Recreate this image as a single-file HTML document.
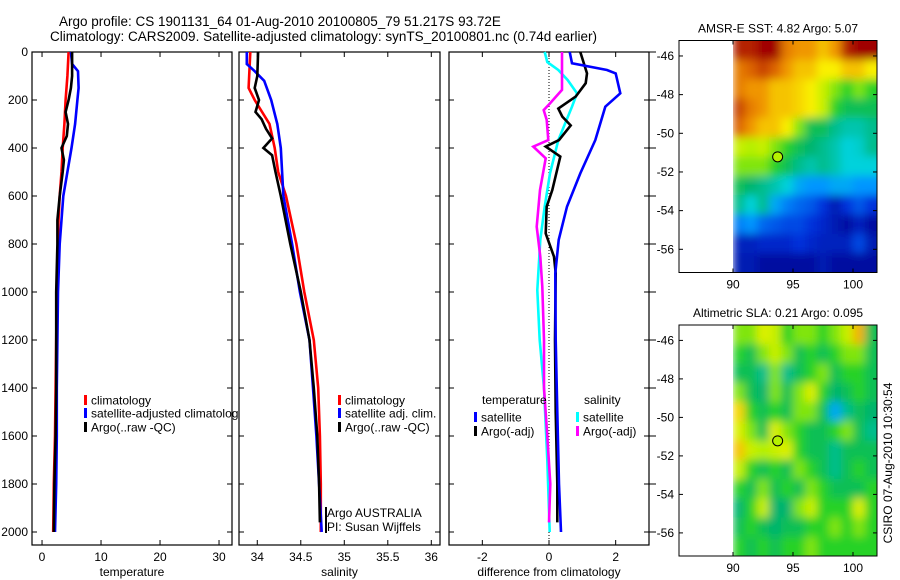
<!DOCTYPE html>
<html><head><meta charset="utf-8"><style>
html,body{margin:0;padding:0;background:#fff;}
svg{display:block;font-family:"Liberation Sans",sans-serif;}
</style></head><body>
<svg id="chart" width="900" height="580" viewBox="0 0 900 580" xmlns="http://www.w3.org/2000/svg">
<defs>
<clipPath id="clip1"><rect x="32" y="52" width="206" height="493"/></clipPath>
<clipPath id="clipM1"><rect x="679" y="40.5" width="198" height="232"/></clipPath>
<clipPath id="clipM2"><rect x="679" y="325" width="198" height="231"/></clipPath>
<filter id="blur" x="-10%" y="-10%" width="120%" height="120%"><feGaussianBlur stdDeviation="4.5"/></filter>
</defs>
<text x="59" y="26" font-size="13.5">Argo profile: CS 1901131_64 01-Aug-2010 20100805_79 51.217S 93.72E</text>
<text x="50" y="41" font-size="13.5">Climatology: CARS2009. Satellite-adjusted climatology: synTS_20100801.nc (0.74d earlier)</text>
<g id="g"></g>
</svg>
<script>
// ---------- data ----------
const depthTicks=[0,200,400,600,800,1000,1200,1400,1600,1800,2000];
// temperature panel
const tClimDepth=[0,100,200,300,400,500,600,700,800,1000,1200,1400,1600,1800,2000];
const tClimVal=[4.5,4.3,4.0,3.8,3.5,3.3,3.0,2.8,2.7,2.5,2.4,2.3,2.2,2.0,1.9];
const tArgoDepth=[0,100,150,200,250,300,350,400,450,500,600,700,800,1000,1200,1400,1600,1800,2000];
const tArgoVal=[5.1,5.1,4.9,4.5,4.0,4.4,4.2,3.3,3.7,3.5,3.0,2.6,2.6,2.4,2.4,2.4,2.3,2.1,2.0];
const tSatDepth=[0,50,80,150,200,300,400,500,600,700,800,1000,1200,1400,1600,1800,2000];
const tSatVal=[4.9,5.1,6.1,6.2,6.0,5.6,5.0,4.3,3.6,3.3,3.0,2.7,2.6,2.5,2.5,2.4,2.2];
const tTicks=[0,10,20,30];
// salinity panel
const sClimDepth=[0,150,200,300,400,500,600,800,1000,1200,1400,1600,1800,2000];
const sClimVal=[33.92,33.9,33.97,34.14,34.2,34.24,34.33,34.45,34.54,34.65,34.7,34.72,34.73,34.73];
const sArgoDepth=[0,100,150,200,250,280,320,360,400,430,500,600,800,1000,1200,1400,1600,1800,1960];
const sArgoVal=[34.01,34.0,33.97,34.02,33.98,34.05,34.1,34.17,34.07,34.17,34.21,34.27,34.38,34.5,34.6,34.65,34.69,34.71,34.72];
const sSatDepth=[0,50,80,120,200,300,400,600,800,1000,1200,1400,1600,1800,2000];
const sSatVal=[33.88,33.88,33.97,34.08,34.16,34.23,34.27,34.3,34.4,34.49,34.6,34.64,34.68,34.71,34.74];
const sTicks=[34,34.5,35,35.5,36];
const sTickLabels=["34","34.5","35","35.5","36"];
// difference panel
const dTSatDepth=[0,47,75,89,172,228,367,506,644,783,922,1200,1500,1800,2000];
const dTSatVal=[0.62,0.69,1.74,2.0,2.14,1.69,1.39,0.94,0.54,0.29,0.19,0.2,0.25,0.3,0.36];
const dTArgoDepth=[0,89,130,186,236,269,306,367,394,436,575,644,756,853,922,1200,1500,1800,1960];
const dTArgoVal=[0.94,1.14,1.1,0.8,0.28,0.4,0.65,0.3,-0.1,0.34,0.1,-0.07,-0.1,0.15,0.2,0.18,0.2,0.25,0.25];
const dSSatDepth=[0,42,75,117,172,228,367,506,644,783,992,1200,1400,1700,2000];
const dSSatVal=[-0.13,-0.05,0.28,0.56,0.84,0.69,0.28,0.03,-0.13,-0.26,-0.35,-0.28,-0.15,-0.05,0.02];
const dSArgoDepth=[0,158,214,242,283,367,394,443,575,728,853,978,1200,1400,1600,1800,1960];
const dSArgoVal=[0.39,0.39,0.03,-0.16,-0.07,-0.02,-0.47,-0.1,-0.27,-0.37,-0.26,-0.2,-0.15,-0.15,-0.05,0.04,0.0];
const dTicks=[-2,0,2];
// maps
const lonTicks=[90,95,100];
const latTicks=[-46,-48,-50,-52,-54,-56];
const sstGrid=[
[0.95,0.95,1.0,1.0,0.8,0.75,0.75,0.7,0.75,0.95,1.0,1.0],
[0.8,0.85,0.9,0.85,0.75,0.7,0.7,0.65,0.65,0.7,0.7,0.65],
[0.8,0.75,0.75,0.7,0.7,0.68,0.65,0.6,0.55,0.5,0.55,0.5],
[0.9,0.8,0.75,0.7,0.7,0.68,0.65,0.6,0.5,0.45,0.45,0.45],
[0.85,0.75,0.7,0.7,0.65,0.55,0.45,0.45,0.4,0.38,0.38,0.4],
[0.6,0.58,0.6,0.55,0.5,0.45,0.42,0.4,0.38,0.35,0.36,0.4],
[0.55,0.55,0.55,0.5,0.45,0.4,0.38,0.4,0.38,0.35,0.35,0.35],
[0.45,0.42,0.4,0.38,0.35,0.3,0.28,0.28,0.3,0.3,0.28,0.28],
[0.4,0.35,0.4,0.3,0.25,0.22,0.2,0.15,0.08,0.15,0.2,0.15],
[0.25,0.28,0.22,0.2,0.18,0.18,0.15,0.12,0.08,0.05,0.1,0.05],
[0.1,0.1,0.12,0.12,0.12,0.15,0.12,0.1,0.1,0.1,0.18,0.08],
[0.08,0.08,0.05,0.05,0.05,0.05,0.05,0.08,0.05,0.05,0.05,0.05]];
const slaGrid=[
[0.55,0.55,0.62,0.6,0.5,0.55,0.55,0.5,0.55,0.6,0.72,0.45],
[0.5,0.45,0.55,0.6,0.55,0.45,0.5,0.45,0.5,0.55,0.55,0.45],
[0.45,0.45,0.4,0.55,0.4,0.45,0.5,0.55,0.45,0.5,0.5,0.45],
[0.55,0.45,0.42,0.55,0.45,0.55,0.62,0.5,0.42,0.45,0.5,0.45],
[0.68,0.5,0.45,0.5,0.45,0.55,0.55,0.45,0.3,0.4,0.45,0.42],
[0.62,0.55,0.45,0.62,0.55,0.5,0.45,0.45,0.5,0.55,0.45,0.4],
[0.7,0.6,0.58,0.6,0.62,0.5,0.45,0.45,0.4,0.45,0.45,0.45],
[0.6,0.5,0.45,0.5,0.45,0.55,0.5,0.45,0.4,0.45,0.5,0.45],
[0.5,0.45,0.55,0.45,0.5,0.45,0.55,0.5,0.45,0.45,0.45,0.5],
[0.42,0.5,0.6,0.42,0.42,0.55,0.6,0.5,0.5,0.5,0.62,0.5],
[0.45,0.5,0.45,0.42,0.45,0.45,0.5,0.5,0.55,0.5,0.55,0.5],
[0.5,0.45,0.5,0.45,0.5,0.5,0.55,0.5,0.5,0.5,0.5,0.5]];
const gridLon0=90, gridLat0=-45.2;
const floatLon=93.72, floatLat=-51.217;

// ---------- drawing ----------
const NS="http://www.w3.org/2000/svg";
const G=document.getElementById('g');
function mk(tag,attrs,parent){const e=document.createElementNS(NS,tag);for(const k in attrs)e.setAttribute(k,attrs[k]);(parent||G).appendChild(e);return e;}
const TOP=52,BOT=545;
function yD(d){return TOP+d*0.24;}

function panel(name,x0,x1,xmin,xmax,ticks,labels,xlabel,leftLabels){
  const sx=v=>x0+(v-xmin)/(xmax-xmin)*(x1-x0);
  const box=mk('rect',{x:x0,y:TOP,width:x1-x0,height:BOT-TOP,fill:'#fff',stroke:'#000','stroke-width':1.2});
  
  
  ticks.forEach((t,i)=>{
    const x=sx(t);
    mk('line',{x1:x,x2:x,y1:BOT,y2:BOT-5,stroke:'#000'});
    mk('line',{x1:x,x2:x,y1:TOP,y2:TOP+5,stroke:'#000'});
    const tx=mk('text',{x:x,y:BOT+16,'font-size':12,'text-anchor':'middle'});
    tx.textContent=labels[i];
    
    
  });
  depthTicks.forEach(d=>{
    const y=yD(d);
    mk('line',{x1:x0,x2:x0+5,y1:y,y2:y,stroke:'#000'});
    mk('line',{x1:x1,x2:x1-5,y1:y,y2:y,stroke:'#000'});
    if(leftLabels){
      const tx=mk('text',{x:x0-4,y:y+4,'font-size':12,'text-anchor':'end'});
      tx.textContent=String(d);
      
      
    }
  });
  const xl=mk('text',{x:(x0+x1)/2,y:576,'font-size':12,'text-anchor':'middle'});
  xl.textContent=xlabel;
  
  
  return sx;
}
function line(sx,depths,vals,color,nm){
  const pts=depths.map((d,i)=>sx(vals[i]).toFixed(1)+','+yD(d).toFixed(1)).join(' ');
  const p=mk('polyline',{points:pts,fill:'none',stroke:color,'stroke-width':2.6,'stroke-linejoin':'miter'});
  
  
}
function legend(x,y,color,label,nm,clip){
  mk('rect',{x:x,y:y-5,width:3,height:10,fill:color});
  const t=mk('text',{x:x+7,y:y+4.5,'font-size':12});
  if(clip)t.setAttribute('clip-path',clip);
  t.textContent=label;
  
  
}

// Panel 1
const sx1=panel('temperature',32,232,-1.7,32.2,tTicks,tTicks.map(String),'temperature',true);
line(sx1,tClimDepth,tClimVal,'#ff0000','temp-climatology-line');
line(sx1,tSatDepth,tSatVal,'#0000ff','temp-satellite-line');
line(sx1,tArgoDepth,tArgoVal,'#000000','temp-argo-line');
legend(84,400,'#ff0000','climatology','legend-climatology');
legend(84,413,'#0000ff','satellite-adjusted climatology','legend-satellite-adjusted','url(#clip1)');
legend(84,427,'#000000','Argo(..raw -QC)','legend-argo-raw');

// Panel 2
const sx2=panel('salinity',239,440,33.79,36.1,sTicks,sTickLabels,'salinity',false);
line(sx2,sClimDepth,sClimVal,'#ff0000','sal-climatology-line');
line(sx2,sSatDepth,sSatVal,'#0000ff','sal-satellite-line');
line(sx2,sArgoDepth,sArgoVal,'#000000','sal-argo-line');
legend(338,400,'#ff0000','climatology','legend-sal-climatology');
legend(338,413,'#0000ff','satellite adj. clim.','legend-sal-satellite');
legend(338,427,'#000000','Argo(..raw -QC)','legend-sal-argo');
mk('rect',{x:325,y:507,width:2,height:26,fill:'#000'});
const a1=mk('text',{x:327,y:517,'font-size':12});a1.textContent='Argo AUSTRALIA';


const a2=mk('text',{x:327,y:531,'font-size':12});a2.textContent='PI: Susan Wijffels';



// Panel 3
const sx3=panel('difference',449,649,-3,3,dTicks,dTicks.map(String),'difference from climatology',false);
mk('line',{x1:sx3(0),x2:sx3(0),y1:TOP,y2:BOT,stroke:'#000','stroke-width':1,'stroke-dasharray':'1,2'});
depthTicks.forEach(d=>mk('line',{x1:649,x2:656,y1:yD(d),y2:yD(d),stroke:'#000'}));
line(sx3,dSSatDepth,dSSatVal,'#00ffff','diff-sal-satellite-line');
line(sx3,dSArgoDepth,dSArgoVal,'#ff00ff','diff-sal-argo-line');
line(sx3,dTArgoDepth,dTArgoVal,'#000000','diff-temp-argo-line');
line(sx3,dTSatDepth,dTSatVal,'#0000ff','diff-temp-satellite-line');
const h1=mk('text',{x:482,y:404,'font-size':12});h1.textContent='temperature';


const h2=mk('text',{x:584,y:404,'font-size':12});h2.textContent='salinity';


legend(474,417,'#0000ff','satellite','legend-diff-temp-satellite');
legend(474,431,'#000000','Argo(-adj)','legend-diff-temp-argo');
legend(576,417,'#00ffff','satellite','legend-diff-sal-satellite');
legend(576,431,'#ff00ff','Argo(-adj)','legend-diff-sal-argo');

// Maps
const cmapStops=[[0,[0,0,130]],[0.15,[0,50,220]],[0.28,[0,150,255]],[0.35,[0,210,220]],[0.42,[0,180,110]],[0.5,[40,210,40]],[0.58,[180,240,0]],[0.65,[250,240,0]],[0.75,[240,150,0]],[0.85,[220,100,0]],[1,[160,0,0]]];
function cmap(v){
  v=Math.max(0,Math.min(1,v));
  for(let i=1;i<cmapStops.length;i++){
    const [a,ca]=cmapStops[i-1],[b,cb]=cmapStops[i];
    if(v<=b){const f=(v-a)/(b-a);return 'rgb('+ca.map((c,k)=>Math.round(c+(cb[k]-c)*f)).join(',')+')';}
  }
  return 'rgb(160,0,0)';
}
function map(name,top,bot,grid,title){
  const x0=679,x1=877,lonMin=85.5,lonMax=102,latTop=-45.2,latBot=-57.2;
  const sx=lon=>x0+(lon-lonMin)/(lonMax-lonMin)*(x1-x0);
  const sy=lat=>top+(latTop-lat)/(latTop-latBot)*(bot-top);
  const b=mk('rect',{x:x0,y:top,width:x1-x0,height:bot-top,fill:'#fff'});
  
  
  const cp=name==='sst'?'url(#clipM1)':'url(#clipM2)';
  const gc=mk('g',{'clip-path':cp});
  const gb=mk('g',{filter:'url(#blur)'},gc);
  const nr=grid.length;
  grid.forEach((row,r)=>row.forEach((v,c)=>{
    let xa=sx(gridLon0+c),xb=sx(gridLon0+c+1),ya=sy(gridLat0-r),yb=sy(gridLat0-r-1);
    if(c===row.length-1)xb+=14;
    if(r===0)ya-=14;
    if(r===nr-1)yb+=14;
    const cell=mk('rect',{x:xa,y:ya,width:xb-xa+0.5,height:yb-ya+0.5,fill:cmap(v)},gb);
    
    
  }));
  // crisp left edge of image
  mk('rect',{x:x0,y:top,width:sx(90)-x0,height:bot-top,fill:'#fff'},gc);
  mk('rect',{x:x0,y:top,width:x1-x0,height:bot-top,fill:'none',stroke:'#000','stroke-width':1});
  lonTicks.forEach(l=>{
    const x=sx(l);
    mk('line',{x1:x,x2:x,y1:bot,y2:bot-4,stroke:'#000'});
    mk('line',{x1:x,x2:x,y1:top,y2:top+4,stroke:'#000'});
    const t=mk('text',{x:x,y:bot+16,'font-size':12,'text-anchor':'middle'});t.textContent=String(l);
    
    
  });
  latTicks.forEach(l=>{
    const y=sy(l);
    mk('line',{x1:x0,x2:x0+4,y1:y,y2:y,stroke:'#000'});
    mk('line',{x1:x1,x2:x1-4,y1:y,y2:y,stroke:'#000'});
    const t=mk('text',{x:x0-5,y:y+4,'font-size':12,'text-anchor':'end'});t.textContent=String(l);
    
    
  });
  const c=mk('ellipse',{cx:sx(floatLon),cy:sy(floatLat),rx:5,ry:5,fill:'#b5f000',stroke:'#000','stroke-width':1});
  
  
  const tt=mk('text',{x:778,y:top-8,'font-size':12,'text-anchor':'middle'});tt.textContent=title;
  
  
}
map('sst',40.5,272.5,sstGrid,'AMSR-E SST: 4.82 Argo: 5.07');
map('sla',325,556,slaGrid,'Altimetric SLA: 0.21 Argo: 0.095');
const cs=mk('text',{x:0,y:0,'font-size':12,'text-anchor':'middle',transform:'translate(892,463) rotate(-90)'});
cs.textContent='CSIRO 07-Aug-2010 10:30:54';


</script>
</body></html>
